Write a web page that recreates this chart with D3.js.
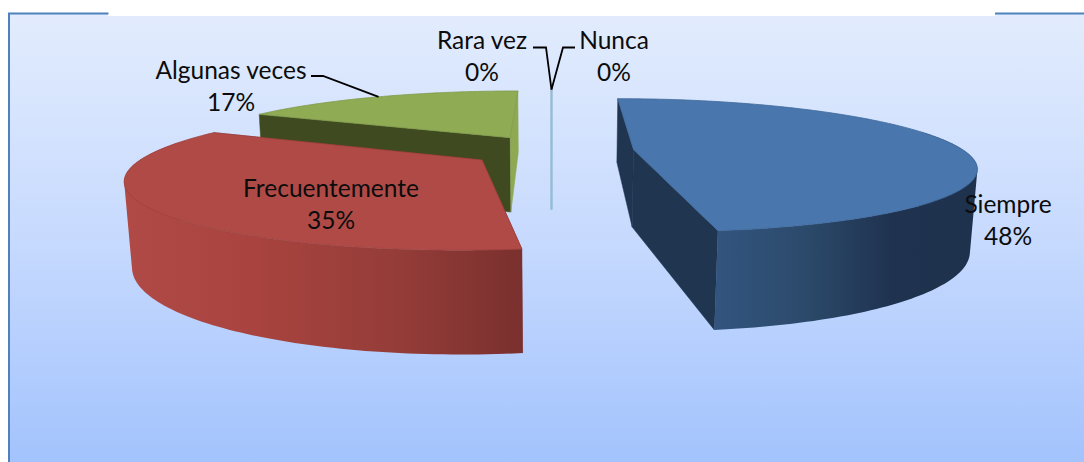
<!DOCTYPE html>
<html>
<head>
<meta charset="utf-8">
<script src="https://cdn.jsdelivr.net/npm/d3@7"></script>
<style>
  html, body { margin: 0; padding: 0; background: #fff; }
  svg { display: block; }
  text { font-family: Lato, "Open Sans", sans-serif; font-size: 24.5px; fill: #0c0c0c; text-anchor: middle; }
</style>
</head>
<body>
<div id="chart"></div>
<script>
var categories = ["Siempre", "Frecuentemente", "Algunas veces", "Rara vez", "Nunca"];
// the printed labels are rounded
var values = [47.8, 34.6, 17.6, 0, 0];
var percentLabels = ["48%", "35%", "17%", "0%", "0%"];

var topColors = ["#4876ad", "#b04a47", "#8fab53", "#93bdd2", "#93bdd2"];
var startWallColors = ["#1f3550", "#7a312f", "#404a20", "#93bdd2", "#93bdd2"];
var endWallColors = ["#1f3550", "#7a312f", "#8fa953", "#93bdd2", "#93bdd2"];
var outerRamps = [
  ["#32547e", "#2c4a6b", "#1f3350", "#1e324d"],
  ["#b04a46", "#a8433f", "#963d39", "#7a302e"],
  ["#404a20", "#404a20"],
  ["#93bdd2", "#93bdd2"],
  ["#93bdd2", "#93bdd2"]
];

var width = 1084, height = 462;

// camera fitted to the picture: top face at z=0, base at z=1
var camera = {vx: 551.5, hy: -115, F: 1385, G: 1114, H: 351, D: 4.196, c: 0.07};
var explode = 0.25;

function project(x, y, z) {
  var w = camera.D - y + camera.c * z;
  return [camera.vx + camera.F * x / w, camera.hy + (camera.G + camera.H * z) / w];
}

var svg = d3.select("#chart").append("svg")
    .attr("width", width)
    .attr("height", height);

var defs = svg.append("defs");

var bg = defs.append("linearGradient")
    .attr("id", "bg")
    .attr("x1", 0).attr("y1", 0).attr("x2", 0).attr("y2", 1);
bg.append("stop").attr("offset", "0%").attr("stop-color", "#e2ecfd");
bg.append("stop").attr("offset", "50%").attr("stop-color", "#c7dafe");
bg.append("stop").attr("offset", "100%").attr("stop-color", "#a3c3fd");

// background and the bits of frame left over
svg.append("rect").attr("x", 8).attr("y", 13).attr("width", width - 8).attr("height", height - 13)
    .attr("fill", "url(#bg)");
svg.append("rect").attr("x", 108).attr("y", 0).attr("width", 887).attr("height", 16).attr("fill", "#fff");
svg.append("path")
    .attr("d", "M9,462V13.5H108.5M995,13.5H1084")
    .attr("fill", "none")
    .attr("stroke", "#4f81bd")
    .attr("stroke-width", 2);

var pie = d3.pie().sort(null).startAngle(0).endAngle(2 * Math.PI);
var arcs = pie(values);
var line = d3.line();

arcs.forEach(function(d) {
  var mid = (d.startAngle + d.endAngle) / 2;
  d.cx = explode * Math.sin(mid);
  d.cy = -explode * Math.cos(mid);
  d.rim = function(a, z) {
    return project(d.cx + Math.sin(a), d.cy - Math.cos(a), z);
  };
});

function rimAngles(d) {
  var n = Math.max(1, Math.ceil((d.endAngle - d.startAngle) / 0.02));
  return d3.range(n + 1).map(function(k) {
    return d.startAngle + (d.endAngle - d.startAngle) * k / n;
  });
}

function radialWall(d, a) {
  return line([project(d.cx, d.cy, 0), d.rim(a, 0), d.rim(a, 1), project(d.cx, d.cy, 1)]) + "Z";
}

// painter's order, back to front
var drawOrder = [3, 4, 2, 0, 1];

drawOrder.forEach(function(i) {
  var d = arcs[i];
  var g = svg.append("g").attr("class", "slice");

  g.append("path")
      .attr("d", radialWall(d, d.startAngle))
      .attr("fill", startWallColors[i])
      .attr("stroke", startWallColors[i])
      .attr("stroke-width", d.value == 0 ? 1.5 : 0.5);

  g.append("path")
      .attr("d", radialWall(d, d.endAngle))
      .attr("fill", endWallColors[i])
      .attr("stroke", endWallColors[i])
      .attr("stroke-width", d.value == 0 ? 1.5 : 0.5);

  if (d.value == 0) return;

  var angles = rimAngles(d);
  // rim facing the viewer: strips wound the same way in one path, so the
  // wall's silhouette doesn't cancel out and there are no seams
  var front = angles.filter(function(a) { return Math.cos(a) < 0.3; });

  if (front.length > 1) {
    var xs = front.map(function(a) { return d.rim(a, 0)[0]; });
    var grad = defs.append("linearGradient")
        .attr("id", "wall" + i)
        .attr("gradientUnits", "userSpaceOnUse")
        .attr("x1", d3.min(xs)).attr("y1", 0)
        .attr("x2", d3.max(xs)).attr("y2", 0);

    outerRamps[i].forEach(function(c, k) {
      grad.append("stop").attr("offset", k / (outerRamps[i].length - 1)).attr("stop-color", c);
    });

    var strips = d3.pairs(front).map(function(p) {
      var quad = [d.rim(p[0], 0), d.rim(p[1], 0), d.rim(p[1], 1), d.rim(p[0], 1)];
      if (d3.polygonArea(quad) < 0) quad.reverse();
      return line(quad) + "Z";
    });

    g.append("path")
        .attr("d", strips.join(""))
        .attr("fill", "url(#wall" + i + ")");
  }

  g.append("path")
      .attr("d", line([project(d.cx, d.cy, 0)].concat(angles.map(function(a) { return d.rim(a, 0); }))) + "Z")
      .attr("fill", topColors[i])
      .attr("stroke", d3.color(topColors[i]).darker(0.3))
      .attr("stroke-width", 0.8);
});

// leader lines
var leaders = [
  {from: [311, 76], elbow: [323, 76], slice: 2, angle: 5.73},
  {from: [533, 47.5], elbow: [546, 47.5], slice: 3, angle: 2 * Math.PI},
  {from: [575, 47.5], elbow: [563, 47.5], slice: 4, angle: 2 * Math.PI}
];

leaders.forEach(function(l) {
  svg.append("path")
      .attr("d", line([l.from, l.elbow, arcs[l.slice].rim(l.angle, 0)]))
      .attr("fill", "none")
      .attr("stroke", "#000")
      .attr("stroke-width", 1.8);
});

// labels
var labelPos = [[1008, 204], [331, 188], [231, 70], [482, 40], [614, 40]];

categories.forEach(function(name, i) {
  var t = svg.append("text").attr("x", labelPos[i][0]).attr("y", labelPos[i][1] + 9);
  t.append("tspan").attr("x", labelPos[i][0]).text(name);
  t.append("tspan").attr("x", labelPos[i][0]).attr("dy", 31.5).text(percentLabels[i]);
});
</script>
</body>
</html>
